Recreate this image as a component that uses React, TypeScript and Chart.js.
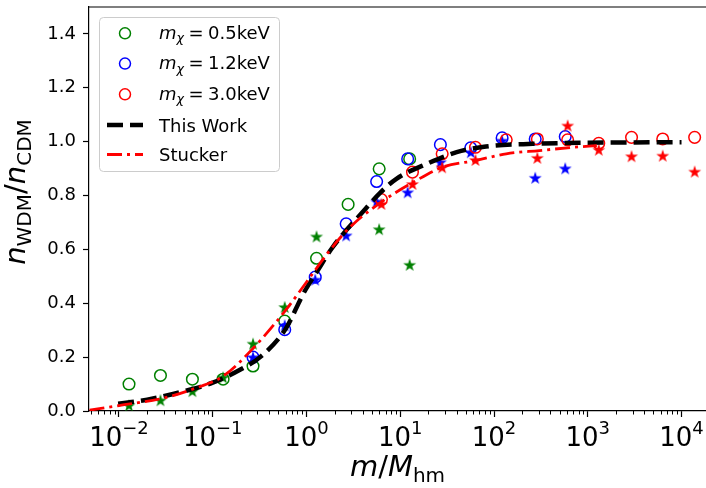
import React, { useEffect, useRef } from 'react';
import { Chart, registerables } from 'chart.js';

Chart.register(...registerables);

// ---------- data ----------
const X_MIN = 0.00479;
const X_MAX = 18240;
const Y_MIN = 0;
const Y_MAX = 1.5;
const yTickValues = [0, 0.2, 0.4, 0.6, 0.8, 1.0, 1.2, 1.4];
const xDecades = [-3, -2, -1, 0, 1, 2, 3, 4];

// m_chi = 0.5 keV (green)
const greenX = [0.0128, 0.0277, 0.0607, 0.129, 0.269, 0.586, 1.28, 2.78, 5.96, 12.6];
const greenCircleY = [0.100, 0.132, 0.118, 0.118, 0.167, 0.334, 0.567, 0.767, 0.899, 0.936];
const greenStarY = [0.021, 0.040, 0.074, 0.125, 0.250, 0.386, 0.648, null, 0.675, 0.543];

// m_chi = 1.2 keV (blue)
const blueX = [0.269, 0.586, 1.24, 2.65, 5.6, 12.0, 26.8, 56.5, 122, 275, 575];
const blueCircleY = [0.200, 0.302, 0.497, 0.695, 0.852, 0.936, 0.989, 0.977, 1.014, 1.010, 1.019];
const blueStarY = [0.200, 0.318, 0.488, 0.652, 0.778, 0.812, 0.924, 0.961, 1.004, 0.866, 0.901];

// m_chi = 3.0 keV (red)
const redX = [2.9, 6.3, 13.5, 28, 63.4, 135, 290, 610, 1310, 2930, 6300, 13800];
const redCircleY = [null, 0.785, 0.887, 0.955, 0.979, 1.007, 1.010, 1.007, 0.994, 1.016, 1.010, 1.016];
const redStarY = [null, 0.769, 0.843, 0.905, 0.932, null, 0.940, 1.060, 0.970, 0.946, 0.948, 0.889];

// "This Work" curve
const thisWorkX = [0.0098, 0.02, 0.05, 0.1, 0.2, 0.32, 0.6, 0.93, 1.28, 1.9, 3.95, 6.1, 9.1, 19.3, 40, 82, 260, 1000, 10000];
const thisWorkY = [0.027, 0.042, 0.074, 0.105, 0.155, 0.200, 0.305, 0.437, 0.515, 0.608, 0.738, 0.810, 0.862, 0.918, 0.961, 0.982, 0.992, 0.996, 0.998];

// "Stucker" curve
const stuckerX = [0.00485, 0.01, 0.03, 0.06, 0.13, 0.27, 0.586, 1.28, 1.67, 2.9, 6.6, 13.7, 28, 64, 135, 305, 700, 1250];
const stuckerY = [0.003, 0.020, 0.048, 0.080, 0.130, 0.233, 0.370, 0.530, 0.585, 0.682, 0.781, 0.849, 0.905, 0.930, 0.955, 0.967, 0.979, 0.985];

const legendLabels = ['0.5keV', '1.2keV', '3.0keV', 'This Work', 'Stucker'];

// ---------- helpers ----------
const FAMILY = '"DejaVu Sans", sans-serif';
const GREEN = '#008000';
const BLUE = '#0000ff';
const RED = '#ff0000';

const isPow10 = (v: number) => v > 0 && Math.abs(Math.log10(v) - Math.round(Math.log10(v))) < 1e-6;
const expText = (v: number) => String(Math.round(Math.log10(v))).replace('-', '−');

const pts = (xs: number[], ys: (number | null)[]) =>
  xs.map((x, i) => ({ x, y: ys[i] })).filter((p) => p.y !== null);

const xTickValues: number[] = [];
xDecades.forEach((n) => {
  for (let k = 1; k <= 9; k++) {
    const v = k * Math.pow(10, n);
    if (v >= X_MIN && v <= X_MAX) xTickValues.push(v);
  }
});

type Part = { t: string; f: string; dy?: number; gap?: number };
function drawRich(ctx: CanvasRenderingContext2D, parts: Part[], x: number, y: number, align: 'left' | 'center') {
  let total = 0;
  parts.forEach((p) => {
    ctx.font = p.f;
    total += ctx.measureText(p.t).width + (p.gap || 0);
  });
  let cx = align === 'center' ? x - total / 2 : x;
  ctx.textAlign = 'left';
  ctx.textBaseline = 'alphabetic';
  parts.forEach((p) => {
    ctx.font = p.f;
    cx += p.gap || 0;
    ctx.fillText(p.t, cx, y + (p.dy || 0));
    cx += ctx.measureText(p.t).width;
  });
}

function makeStar(color: string) {
  const c = document.createElement('canvas');
  c.width = 16;
  c.height = 16;
  const g = c.getContext('2d')!;
  g.fillStyle = color;
  g.beginPath();
  for (let i = 0; i < 10; i++) {
    const r = i % 2 === 0 ? 6.8 : 2.6;
    const a = -Math.PI / 2 + (i * Math.PI) / 5;
    g.lineTo(8 + r * Math.cos(a), 8.6 + r * Math.sin(a));
  }
  g.closePath();
  g.fill();
  return c;
}

const overlayPlugin = {
  id: 'overlay',
  afterDraw(chart: any) {
    const ctx: CanvasRenderingContext2D = chart.ctx;
    const { left, right, top, bottom } = chart.chartArea;
    const xs = chart.scales.x;
    ctx.save();
    // top spine
    ctx.strokeStyle = '#000';
    ctx.lineWidth = 1.2;
    ctx.beginPath();
    ctx.moveTo(left - 0.6, top);
    ctx.lineTo(right, top);
    ctx.stroke();
    // minor x ticks
    ctx.lineWidth = 1;
    xTickValues.forEach((v) => {
      if (isPow10(v)) return;
      const px = Math.round(xs.getPixelForValue(v)) + 0.5;
      ctx.beginPath();
      ctx.moveTo(px, bottom);
      ctx.lineTo(px, bottom + 3.5);
      ctx.stroke();
    });
    // x tick labels 10^n
    ctx.fillStyle = '#000';
    xTickValues.forEach((v) => {
      if (!isPow10(v)) return;
      const px = xs.getPixelForValue(v);
      drawRich(
        ctx,
        [
          { t: '10', f: `26px ${FAMILY}` },
          { t: expText(v), f: `18px ${FAMILY}`, dy: -12 },
        ],
        px,
        446,
        'center'
      );
    });
    // axis titles
    const big = 29;
    drawRich(
      ctx,
      [
        { t: 'm', f: `italic ${big}px ${FAMILY}` },
        { t: '/', f: `${big}px ${FAMILY}` },
        { t: 'M', f: `italic ${big}px ${FAMILY}` },
        { t: 'hm', f: `${Math.round(big * 0.7)}px ${FAMILY}`, dy: 6 },
      ],
      (left + right) / 2,
      476,
      'center'
    );
    ctx.save();
    ctx.translate(25, 192);
    ctx.rotate(-Math.PI / 2);
    drawRich(
      ctx,
      [
        { t: 'n', f: `italic ${big}px ${FAMILY}` },
        { t: 'WDM', f: `${Math.round(big * 0.7)}px ${FAMILY}`, dy: 6 },
        { t: '/', f: `${big}px ${FAMILY}` },
        { t: 'n', f: `italic ${big}px ${FAMILY}` },
        { t: 'CDM', f: `${Math.round(big * 0.7)}px ${FAMILY}`, dy: 6 },
      ],
      0,
      0,
      'center'
    );
    ctx.restore();

    // legend
    const bx = 99.5, by = 17.5, bw = 180, bh = 154, r = 4;
    ctx.beginPath();
    ctx.moveTo(bx + r, by);
    ctx.arcTo(bx + bw, by, bx + bw, by + bh, r);
    ctx.arcTo(bx + bw, by + bh, bx, by + bh, r);
    ctx.arcTo(bx, by + bh, bx, by, r);
    ctx.arcTo(bx, by, bx + bw, by, r);
    ctx.closePath();
    ctx.fillStyle = 'rgba(255,255,255,0.8)';
    ctx.fill();
    ctx.strokeStyle = '#cccccc';
    ctx.lineWidth = 1;
    ctx.stroke();

    const rows = [33.3, 63.6, 94.3, 125, 154.5];
    const colors = [GREEN, BLUE, RED];
    const textX = 159;
    for (let i = 0; i < 3; i++) {
      ctx.strokeStyle = colors[i];
      ctx.lineWidth = 1.5;
      ctx.beginPath();
      ctx.arc(125, rows[i], 5.5, 0, Math.PI * 2);
      ctx.stroke();
      ctx.fillStyle = '#000';
      drawRich(
        ctx,
        [
          { t: 'm', f: `italic 18px ${FAMILY}` },
          { t: 'χ', f: `italic 12.6px ${FAMILY}`, dy: 3.5 },
          { t: '=', f: `18px ${FAMILY}`, gap: 4.5 },
          { t: legendLabels[i], f: `18px ${FAMILY}`, gap: 4.5 },
        ],
        textX,
        rows[i] + 5.5,
        'left'
      );
    }
    // This Work handle
    ctx.strokeStyle = '#000';
    ctx.lineWidth = 4.5;
    ctx.setLineDash([16, 7]);
    ctx.beginPath();
    ctx.moveTo(107, rows[3]);
    ctx.lineTo(143, rows[3]);
    ctx.stroke();
    // Stucker handle
    ctx.strokeStyle = RED;
    ctx.lineWidth = 2.8;
    ctx.setLineDash([15, 5, 3, 5]);
    ctx.beginPath();
    ctx.moveTo(107, rows[4]);
    ctx.lineTo(143, rows[4]);
    ctx.stroke();
    ctx.setLineDash([]);
    ctx.fillStyle = '#000';
    ctx.font = `18px ${FAMILY}`;
    ctx.textAlign = 'left';
    ctx.textBaseline = 'alphabetic';
    ctx.fillText(legendLabels[3], textX, rows[3] + 6.5);
    ctx.fillText(legendLabels[4], textX, rows[4] + 6.5);
    ctx.restore();
  },
};

export default function App() {
  const ref = useRef<HTMLCanvasElement>(null);
  useEffect(() => {
    const greenStar = makeStar(GREEN);
    const blueStar = makeStar(BLUE);
    const redStar = makeStar(RED);
    const circle = (data: any, color: string) => ({
      data,
      pointStyle: 'circle',
      pointRadius: 5.8,
      pointBorderWidth: 1.5,
      pointBorderColor: color,
      pointBackgroundColor: 'rgba(0,0,0,0)',
      showLine: false,
    });
    const star = (data: any, img: HTMLCanvasElement) => ({
      data,
      pointStyle: img,
      pointRadius: 7,
      showLine: false,
    });
    const chart = new Chart(ref.current!, {
      type: 'scatter',
      data: {
        datasets: [
          {
            label: 'Stucker',
            data: pts(stuckerX, stuckerY),
            showLine: true,
            borderColor: RED,
            borderWidth: 2.8,
            borderDash: [15, 5, 3, 5],
            pointRadius: 0,
            cubicInterpolationMode: 'monotone',
          } as any,
          {
            label: 'This Work',
            data: pts(thisWorkX, thisWorkY),
            showLine: true,
            borderColor: '#000',
            borderWidth: 4.5,
            borderDash: [16, 7],
            pointRadius: 0,
            cubicInterpolationMode: 'monotone',
          } as any,
          star(pts(redX, redStarY), redStar),
          circle(pts(redX, redCircleY), RED),
          star(pts(blueX, blueStarY), blueStar),
          circle(pts(blueX, blueCircleY), BLUE),
          star(pts(greenX, greenStarY), greenStar),
          circle(pts(greenX, greenCircleY), GREEN),
        ],
      },
      options: {
        responsive: false,
        devicePixelRatio: 1,
        animation: false,
        layout: { autoPadding: false, padding: { top: 7, left: 0, right: 0, bottom: 0 } },
        plugins: { legend: { display: false }, tooltip: { enabled: false } },
        scales: {
          x: {
            type: 'logarithmic',
            position: 'bottom',
            min: X_MIN,
            max: X_MAX,
            afterBuildTicks: (s: any) => {
              s.ticks = xTickValues.map((v) => ({ value: v, major: isPow10(v) }));
            },
            afterFit: (s: any) => {
              s.height = 77;
              s.paddingLeft = 0;
              s.paddingRight = 0;
            },
            ticks: {
              display: false,
              autoSkip: false,
              maxRotation: 0,
              minRotation: 0,
            },
            grid: {
              display: true,
              drawOnChartArea: false,
              drawTicks: true,
              tickLength: 6,
              tickWidth: 1.2,
              tickColor: (c: any) => (c.tick && isPow10(c.tick.value) ? '#000' : 'rgba(0,0,0,0)'),
            },
            border: { display: true, color: '#000', width: 1.2 },
          },
          y: {
            type: 'linear',
            min: Y_MIN,
            max: Y_MAX,
            afterBuildTicks: (s: any) => {
              s.ticks = yTickValues.map((v) => ({ value: v }));
            },
            afterFit: (s: any) => {
              s.width = 89;
              s.paddingTop = 0;
              s.paddingBottom = 0;
            },
            ticks: {
              color: '#000',
              padding: 7,
              font: { family: FAMILY, size: 18 },
              callback: (v: any) => Number(v).toFixed(1),
            },
            grid: {
              display: true,
              drawOnChartArea: false,
              drawTicks: true,
              tickLength: 6,
              tickWidth: 1.2,
              tickColor: '#000',
            },
            border: { display: true, color: '#000', width: 1.2 },
          },
        },
      } as any,
      plugins: [overlayPlugin],
    });
    return () => chart.destroy();
  }, []);
  return (
    <div style={{ position: 'fixed', left: 0, top: 0, width: 706, height: 488, background: '#fff', overflow: 'hidden' }}>
      <canvas ref={ref} width={706} height={488} style={{ display: 'block', width: 706, height: 488 }} />
    </div>
  );
}
